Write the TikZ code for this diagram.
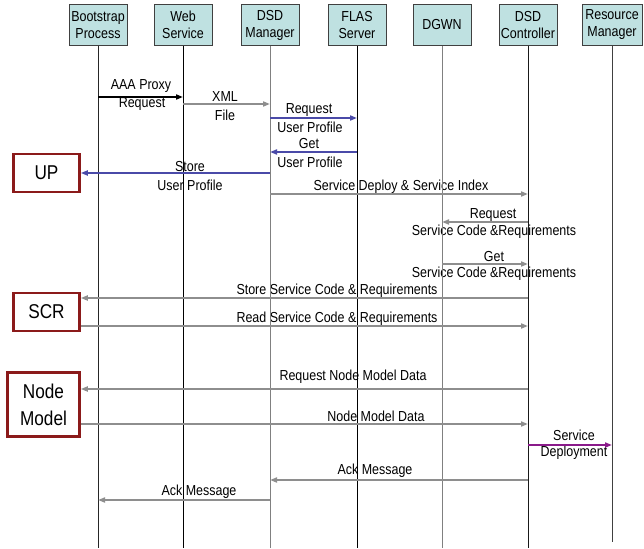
\documentclass[tikz,border=0pt]{standalone}
\usepackage{fontspec}
\setmainfont{Liberation Sans}[FakeStretch=0.86]
\usetikzlibrary{arrows.meta,positioning}
\definecolor{header}{HTML}{BFE1E1}
\definecolor{store}{HTML}{8B1A1A}
\definecolor{profile}{HTML}{4A4AA8}
\definecolor{plain}{HTML}{8E8E8E}
\definecolor{deploy}{HTML}{8A1A8A}

\begin{document}
\begin{tikzpicture}[x=1pt, y=-1pt,
  actor/.style={draw=black!75, fill=header, minimum width=58, minimum height=41, inner sep=1pt, align=center, font=\fontsize{14.5}{17}\selectfont},
  db/.style={draw=store, line width=2.5pt, fill=white, minimum width=66, minimum height=38, inner sep=1pt, align=center, font=\fontsize{20}{27}\selectfont},
  lbl/.style={inner sep=0pt, text=black, font=\fontsize{14.5}{17}\selectfont},
  msg/.style={-{Triangle[length=7pt, width=5pt]}, line width=1.8pt, plain},
  life/.style={line width=0.9pt}
]
  \useasboundingbox (0,0) rectangle (644,548);
  % lifeline heads
  \node[actor] (boot) at (98,25) {Bootstrap\\Process};
  \node[actor] (web) at (183,25) {Web\\Service};
  \node[actor] (dsdm) at (270,25) {DSD\\Manager};
  \node[actor] (flas) at (357,25) {FLAS\\Server};
  \node[actor] (dgwn) at (442,25) {DGWN};
  \node[actor] (ctrl) at (528,25) {DSD\\Controller};
  \node[actor, minimum width=60] (rm) at (612,25) {Resource\\Manager};
  \coordinate (bottom) at (0,548);
  \coordinate (rmend) at (0,542);
  % stores
  \node[db] (up) at (46.5,173) {UP};
  \node[db] (scr) at (46.5,312) {SCR};
  \node[db, minimum width=72, minimum height=64] (nm) at (43.5,404.5) {Node\\Model};
  % message rows
  \foreach \m/\y in {1/97, 2/104, 3/118, 4/152, 5/173, 6/194, 7/222, 8/264, 9/298, 10/326, 11/389, 12/424, 13/445, 14/480, 15/500}
    \coordinate (m\m) at (0,\y);
  % labels
  \node[lbl] at (141,86) {AAA Proxy};
  \node[lbl] at (142,104) {Request};
  \node[lbl] at (225,97) {XML};
  \node[lbl] at (225,115) {File};
  \node[lbl] at (309,110) {Request};
  \node[lbl] at (310,127) {User Profile};
  \node[lbl] at (309,144) {Get};
  \node[lbl] at (310,162) {User Profile};
  \node[lbl] at (190,167) {Store};
  \node[lbl] at (190,185) {User Profile};
  \node[lbl] at (401,187) {Service Deploy \& Service Index};
  \node[lbl] at (493,215) {Request};
  \node[lbl] at (494,232) {Service Code \&Requirements};
  \node[lbl] at (494,257) {Get};
  \node[lbl] at (494,274) {Service Code \&Requirements};
  \node[lbl] at (337,291) {Store Service Code \& Requirements};
  \node[lbl] at (337,319) {Read Service Code \& Requirements};
  \node[lbl] at (353,377) {Request Node Model Data};
  \node[lbl] at (376,416) {Node Model Data};
  \node[lbl] at (574,435) {Service};
  \node[lbl] at (574,453) {Deployment};
  \node[lbl] at (375,471) {Ack Message};
  \node[lbl] at (199,492) {Ack Message};
  % lifelines
  \foreach \n/\c in {boot/black!85, web/black, dsdm/black!50, flas/black, dgwn/black!50, ctrl/black!90}
    \draw[life, \c] (\n.south) -- (\n |- bottom);
  \draw[life, black!75] (rm.south) -- (rm |- rmend);
  % messages
  \draw[msg, black] (boot |- m1) -- (web |- m1);
  \draw[msg] (web |- m2) -- (dsdm |- m2);
  \draw[msg, profile] (dsdm |- m3) -- (flas |- m3);
  \draw[msg, profile] (flas |- m4) -- (dsdm |- m4);
  \draw[msg, profile] (dsdm |- m5) -- (up.east);
  \draw[msg] (dsdm |- m6) -- (ctrl |- m6);
  \draw[msg] (ctrl |- m7) -- (dgwn |- m7);
  \draw[msg] (dgwn |- m8) -- (ctrl |- m8);
  \draw[msg] (ctrl |- m9) -- (scr.east |- m9);
  \draw[msg] (scr.east |- m10) -- (ctrl |- m10);
  \draw[msg] (ctrl |- m11) -- (nm.east |- m11);
  \draw[msg] (nm.east |- m12) -- (ctrl |- m12);
  \draw[msg, deploy] (ctrl |- m13) -- (rm |- m13);
  \draw[msg] (ctrl |- m14) -- (dsdm |- m14);
  \draw[msg] (dsdm |- m15) -- (boot |- m15);
\end{tikzpicture}
\end{document}
